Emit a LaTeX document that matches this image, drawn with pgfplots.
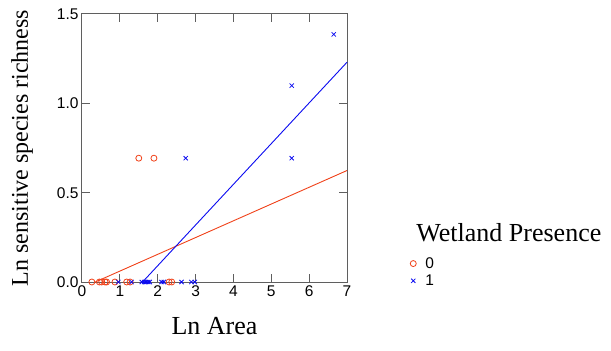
\documentclass[border=0pt]{standalone}
\usepackage{fontspec}
\setmainfont{Liberation Serif}
\newfontfamily\ticksf{Liberation Sans}
\usepackage{pgfplots}
\pgfplotsset{compat=1.18}
\definecolor{cred}{RGB}{240,65,25}
\definecolor{cblue}{RGB}{10,10,240}
\definecolor{axgray}{RGB}{95,95,95}
\begin{document}
\begin{tikzpicture}
\useasboundingbox (-82pt,-69pt) rectangle (529pt,282pt);
\begin{axis}[
  at={(0pt,0pt)}, anchor=south west,
  scale only axis, width=265pt, height=268pt,
  xmin=0, xmax=7, ymin=0, ymax=1.5,
  xtick={0,1,2,3,4,5,6,7},
  ytick={0,0.5,1,1.5},
  yticklabel style={/pgf/number format/.cd, fixed, fixed zerofill, precision=1},
  /pgf/number format/assume math mode=true,
  tick label style={font=\ticksf\fontsize{15.5}{17}\selectfont, black},
  tick align=inside,
  major tick length=8pt,
  axis line style={axgray, line width=1pt},
  every tick/.style={axgray, line width=1pt},
  clip=false,
  xlabel={Ln Area},
  ylabel={Ln sensitive species richness},
  xlabel style={font=\fontsize{26}{28}\selectfont, at={(axis description cs:0.5,-0.164)}, anchor=center},
  ylabel style={font=\fontsize{24}{26}\selectfont, at={(axis description cs:-0.226,0.5)}, anchor=center},
  legend style={at={(rel axis cs:1.238,0.10)}, anchor=north west, draw=none, fill=none,
     font=\ticksf\fontsize{15.5}{17}\selectfont, row sep=1pt, inner sep=0pt,
     /tikz/every odd column/.append style={column sep=7pt}},
  legend cell align=left,
]
\addplot[only marks, mark=o, cred, mark size=3pt, line width=0.8pt] coordinates {
 (0.26,0) (0.46,0) (0.52,0) (0.61,0) (0.65,0) (0.87,0) (1.18,0) (1.27,0) (2.30,0) (2.37,0)
 (1.50,0.693) (1.90,0.693)
};
\addlegendentry{0}
\addplot[only marks, mark=x, cblue, mark size=3pt, line width=0.8pt] coordinates {
 (0.96,0) (1.31,0) (1.58,0) (1.64,0) (1.69,0) (1.75,0) (1.79,0) (2.10,0) (2.16,0) (2.63,0) (2.89,0) (2.98,0)
 (2.74,0.693) (5.54,0.693) (5.54,1.099) (6.65,1.386)
};
\addlegendentry{1}
\addplot[cred, line width=0.9pt, forget plot] coordinates {(0.35,0) (7,0.624)};
\addplot[cblue, line width=0.9pt, forget plot] coordinates {(1.60,0) (7,1.23)};
\node[font=\fontsize{26}{28}\selectfont, anchor=center] at (rel axis cs:1.611,0.183) {Wetland Presence};
\end{axis}
\end{tikzpicture}
\end{document}
